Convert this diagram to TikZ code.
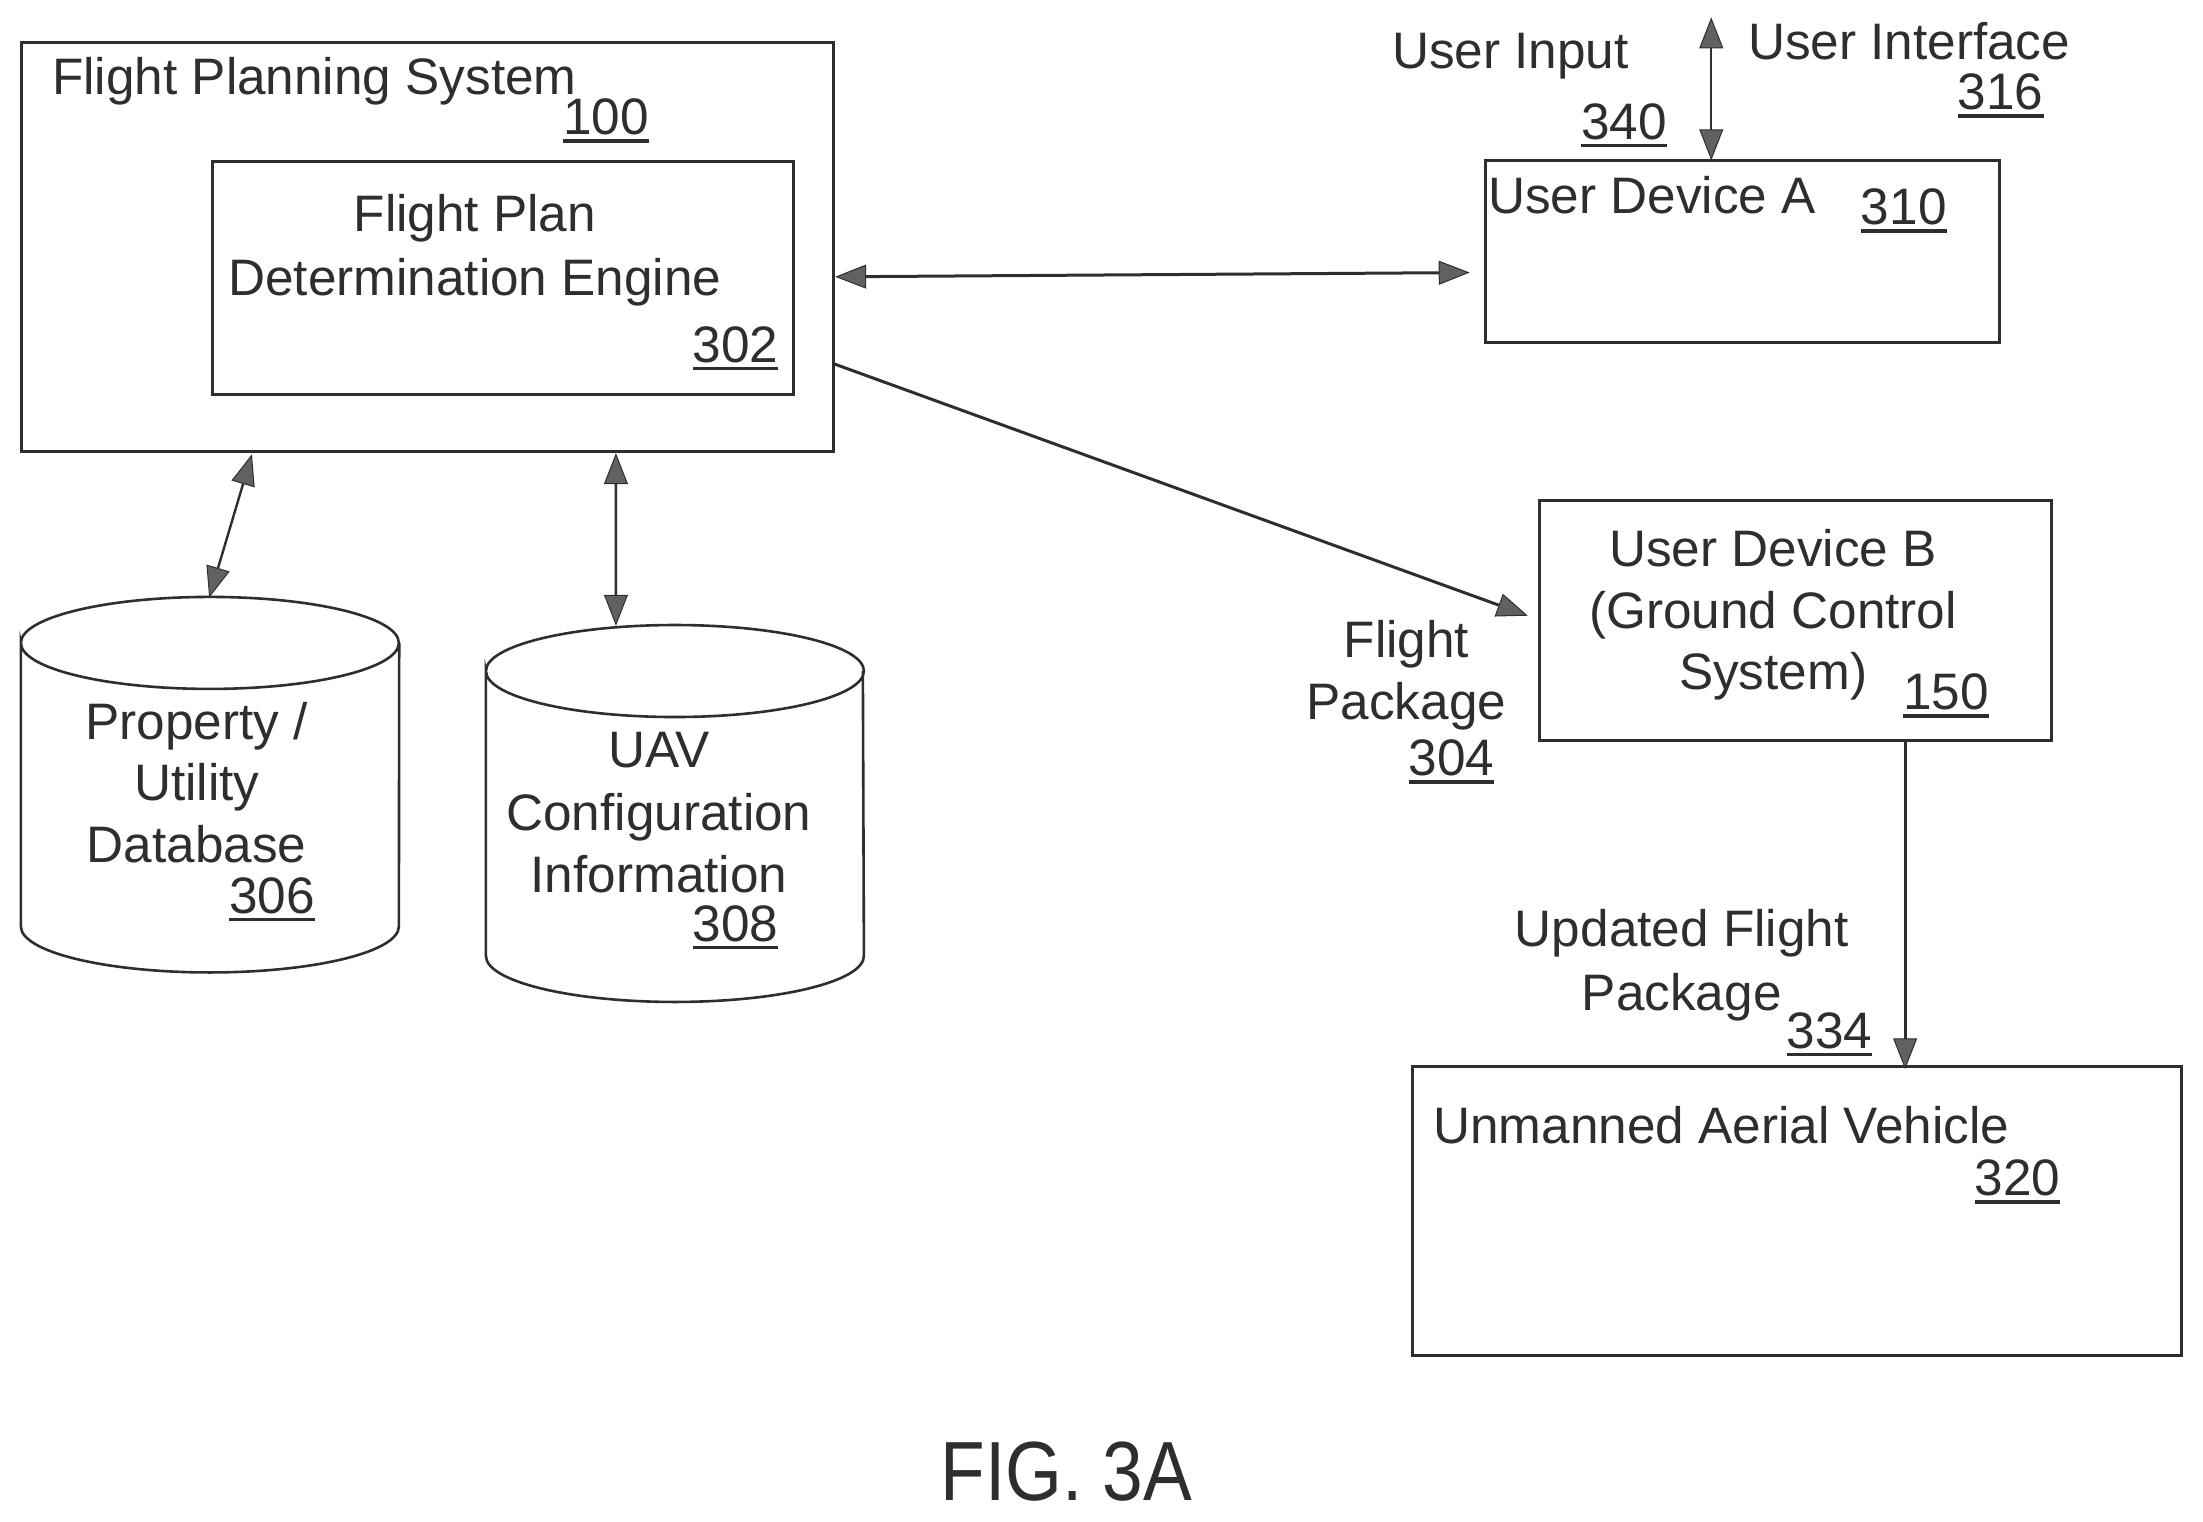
\documentclass[tikz,border=0pt]{standalone}
\usepackage{fontspec}
\usepackage{graphicx}
\setmainfont{Liberation Sans}
\usetikzlibrary{arrows.meta,fit}
\definecolor{ink}{gray}{0.18}
\definecolor{tipfill}{gray}{0.38}
\newcommand{\lbl}[1]{\setbox0\hbox{#1}\leavevmode\copy0\llap{\rule[-8pt]{\wd0}{3.5pt}}}
\tikzset{
  x=1.405pt,y=-1.405pt,
  boxn/.style={draw=ink,line width=3pt,inner sep=0pt,fill=none},
  cylbase/.style={inner sep=0pt,draw=none},
  cylline/.style={draw=ink,line width=2.6pt},
  txt/.style={text=ink,font=\fontsize{51.3}{62}\selectfont,inner sep=0pt,anchor=base,align=center},
  txtl/.style={txt,anchor=base west},
  capt/.style={text=ink,font=\fontsize{84}{90}\selectfont,inner sep=0pt,anchor=base},
  conn/.style={draw=ink,line width=3pt,shorten <=-3pt,shorten >=-3pt},
  thinconn/.style={conn,line width=2.4pt},
  tipA/.style={{Triangle[length=31pt,width=24pt,color=ink,fill=tipfill,line width=1pt]}-{Triangle[length=31pt,width=24pt,color=ink,fill=tipfill,line width=1pt]}},
  tipB/.style={-{Triangle[length=31pt,width=24pt,color=ink,fill=tipfill,line width=1pt]}}
}
\newcommand{\cylpaths}[1]{%
  \draw[cylline] ([yshift=-46pt]#1.north west) arc[start angle=180,end angle=0,x radius=189pt,y radius=46pt]
     arc[start angle=0,end angle=-180,x radius=189pt,y radius=46pt] -- ([yshift=46pt]#1.south west)
     arc[start angle=180,end angle=360,x radius=189pt,y radius=46pt] -- ([yshift=-46pt]#1.north east);}
\begin{document}
\begin{tikzpicture}
\useasboundingbox (0,0) rectangle (1568,1082.6);
\node[boxn,fit={(15,30)(593,321)}] (fps) {};
\node[boxn,fit={(151,115)(565,281)}] (eng) {};
\node[boxn,fit={(1057,114)(1423,244)}] (uda) {};
\node[boxn,fit={(1096,356)(1460,527)}] (udb) {};
\node[boxn,fit={(1005,759)(1553,965)}] (uav) {};
\node[cylbase,fit={(15,425)(284,692)}] (db1) {};
\node[cylbase,fit={(346,445)(614,713)}] (db2) {};
\cylpaths{db1}
\cylpaths{db2}
\coordinate (uifree) at (1218,14.5);
% connectors
\draw[conn,tipA] ([shift={(2.5,21.5)}]fps.east) -- ([shift={(-12,15)}]uda.west);
\draw[conn,tipB] ([shift={(1,84)}]fps.east) -- ([shift={(-9.5,-4)}]udb.west);
\draw[thinconn,tipA] ([shift={(-125.3,3.3)}]fps.south) -- ([shift={(0,-1.5)}]db1.north);
\draw[thinconn,tipA] ([shift={(134.4,2.6)}]fps.south) -- ([shift={(-41.6,-1.6)}]db2.north);
\draw[thinconn,tipA] (uifree) -- ([shift={(-22,-1)}]uda.north);
\draw[conn,tipB] ([shift={(78,0)}]udb.south) -- ([shift={(77,1)}]uav.north);
% text
\node[txtl] (t1) at (37,67) {Flight Planning System};
\node[txt] (n100) at (431.5,96) {\lbl{100}};
\node[txt] (t2) at (338,165) {Flight Plan};
\node[txt] (t3) at (338,210) {Determination Engine};
\node[txt] (n302) at (523.5,258) {\lbl{302}};
\node[txt] (t4) at (1075,49) {User Input};
\node[txt] (n340) at (1156,99) {\lbl{340}};
\node[txtl] (t5) at (1244,42) {User Interface};
\node[txt] (n316) at (1424,78) {\lbl{316}};
\node[txtl] (t6) at (1059,152) {User Device A};
\node[txt] (n310) at (1355,160) {\lbl{310}};
\node[txt] (t7) at (1262,403) {User Device B};
\node[txt] (t8) at (1262,447) {(Ground Control};
\node[txt] (t9) at (1262,491) {System)};
\node[txt] (n150) at (1385,505) {\lbl{150}};
\node[txt] (t10) at (1001,468) {Flight};
\node[txt] (t11) at (1001,512) {Package};
\node[txt] (n304) at (1033,552) {\lbl{304}};
\node[txt] (t12) at (1197,674) {Updated Flight};
\node[txt] (t13) at (1197,719) {Package};
\node[txt] (n334) at (1302,746) {\lbl{334}};
\node[txtl] (t14) at (1020,814) {Unmanned Aerial Vehicle};
\node[txt] (n320) at (1436,851) {\lbl{320}};
\node[txt] (t15) at (140,526) {Property /};
\node[txt] (t16) at (140,570) {Utility};
\node[txt] (t17) at (140,614) {Database};
\node[txt] (n306) at (193.5,650) {\lbl{306}};
\node[txt] (t18) at (469,546) {UAV};
\node[txt] (t19) at (469,591) {Configuration};
\node[txt] (t20) at (469,635) {Information};
\node[txt] (n308) at (523.5,670) {\lbl{308}};
\node[capt] (fig) at (759,1068) {\scalebox{0.87}[1]{FIG. 3A}};
\end{tikzpicture}
\end{document}
